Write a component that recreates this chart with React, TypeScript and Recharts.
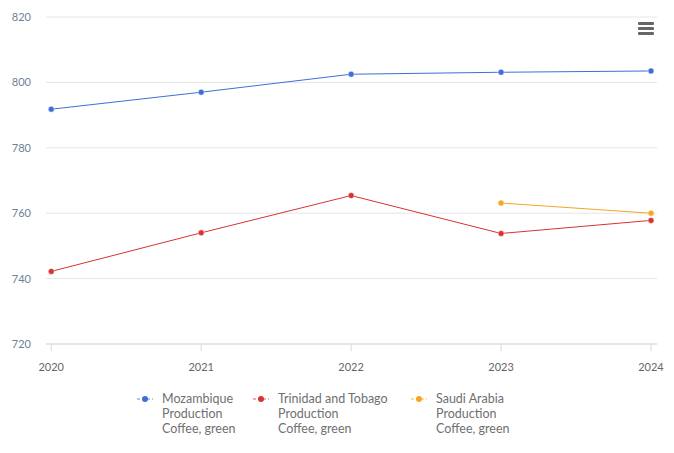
import React from "react";
import { LineChart, Line, XAxis, YAxis, CartesianGrid } from "recharts";

const years = [2020, 2021, 2022, 2023, 2024];
const mozambique = [791.8, 797.0, 802.5, 803.1, 803.5];
const trinidad = [742.2, 754.0, 765.4, 753.8, 757.8];
const saudi: (number | null)[] = [null, null, null, 763.1, 760.0];
const yTicks = [720, 740, 760, 780, 800, 820];

const seriesInfo = [
  { key: "moz", name: "Mozambique", color: "#3e6fd8" },
  { key: "tt", name: "Trinidad and Tobago", color: "#d63333" },
  { key: "sa", name: "Saudi Arabia", color: "#f5a623" },
];
const subLines = ["Production", "Coffee, green"];

const data = years.map((y, i) => ({
  year: y,
  moz: mozambique[i],
  tt: trinidad[i],
  sa: saudi[i],
}));

const FONT = "Lato, 'Open Sans', sans-serif";
const legendX = [137, 253, 411];

export default function App() {
  return (
    <div style={{ position: "absolute", left: 0, top: 0, width: 674, height: 453, background: "#fff", fontFamily: FONT }}>
      <LineChart
        width={674}
        height={453}
        data={data}
        margin={{ top: 17, right: 17, left: 0, bottom: 80 }}
      >
        <CartesianGrid horizontal vertical={false} stroke="#e6e6e6" />
        <XAxis
          dataKey="year"
          type="number"
          domain={[2019.965, 2024.04]}
          ticks={years}
          height={29}
          tickSize={7}
          tickMargin={12}
          stroke="#d9d9d9"
          tick={{ fill: "#666", fontSize: 11, fontFamily: FONT }}
          allowDataOverflow
        />
        <YAxis
          width={46}
          domain={[720, 820]}
          ticks={yTicks}
          axisLine={false}
          tickLine={false}
          tickSize={6}
          tickMargin={9}
          tick={{ fill: "#6f7f99", fontSize: 11, fontFamily: FONT }}
        />
        {seriesInfo.map((s) => (
          <Line
            key={s.key}
            dataKey={s.key}
            name={s.name}
            stroke={s.color}
            strokeWidth={1}
            dot={{ r: 3, fill: s.color, stroke: "#fff", strokeWidth: 0.5 }}
            activeDot={false}
            isAnimationActive={false}
            connectNulls={false}
          />
        ))}
      </LineChart>
      <div style={{ position: "absolute", left: 638, top: 22, width: 16 }}>
        {[0, 1, 2].map((i) => (
          <div key={i} style={{ height: 3, background: "#666", marginBottom: 2, borderRadius: 1 }} />
        ))}
      </div>
      {seriesInfo.map((s, i) => (
        <div key={s.key} style={{ position: "absolute", left: legendX[i], top: 391 }}>
          <svg width={16} height={12} style={{ position: "absolute", left: 0, top: 2 }}>
            <line x1={0} y1={6} x2={16} y2={6} stroke={s.color} strokeWidth={1} strokeDasharray="3,2" opacity={0.8} />
            <circle cx={8} cy={6} r={3} fill={s.color} />
          </svg>
          <div style={{ position: "absolute", left: 25, top: 0, color: "#707070", fontSize: 12.5, lineHeight: "15px", whiteSpace: "nowrap" }}>
            <div>{s.name}</div>
            {subLines.map((l) => (
              <div key={l}>{l}</div>
            ))}
          </div>
        </div>
      ))}
    </div>
  );
}
